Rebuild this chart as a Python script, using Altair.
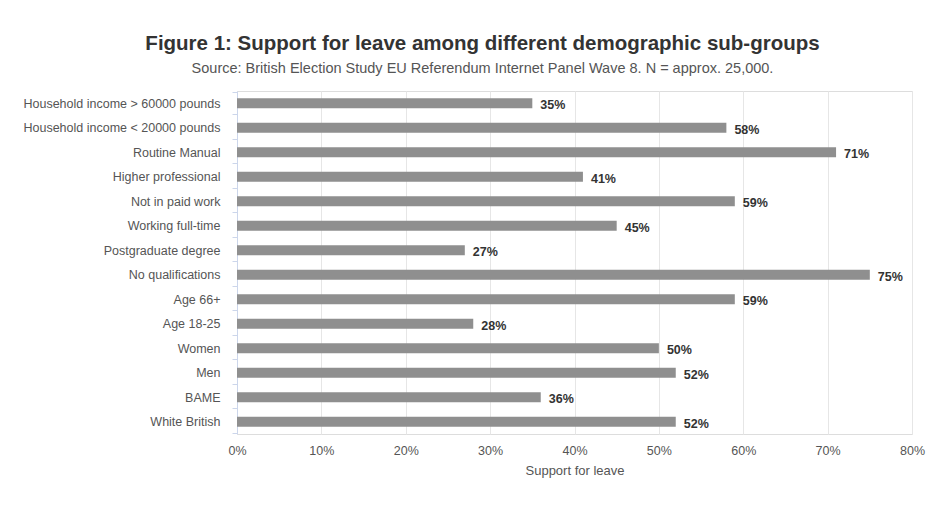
import altair as alt
import pandas as pd

categories = [
    "Household income > 60000 pounds",
    "Household income < 20000 pounds",
    "Routine Manual",
    "Higher professional",
    "Not in paid work",
    "Working full-time",
    "Postgraduate degree",
    "No qualifications",
    "Age 66+",
    "Age 18-25",
    "Women",
    "Men",
    "BAME",
    "White British",
]
values = [35, 58, 71, 41, 59, 45, 27, 75, 59, 28, 50, 52, 36, 52]
x_ticks = [0, 10, 20, 30, 40, 50, 60, 70, 80]

df = pd.DataFrame({"group": categories, "leave": values})

FONT = "Liberation Sans"

base = alt.Chart(df).encode(
    y=alt.Y(
        "group:N",
        sort=categories,
        title=None,
        axis=alt.Axis(
            tickBand="extent",
            tickSize=5,
            tickColor="#ccd6eb",
            domainColor="#ccd6eb",
            labelColor="#555555",
            labelFontSize=12.5,
            labelFont=FONT,
            labelPadding=12,
            labelLimit=400,
            grid=False,
        ),
    ),
    x=alt.X(
        "leave:Q",
        scale=alt.Scale(domain=[0, 80], nice=False),
        title="Support for leave",
        axis=alt.Axis(
            values=x_ticks,
            labelExpr="datum.value + '%'",
            labelColor="#555555",
            labelFontSize=12.5,
            labelFont=FONT,
            labelPadding=10,
            labelFlush=False,
            ticks=False,
            domain=False,
            grid=True,
            gridColor="#e6e6e6",
            titleColor="#555555",
            titleFontSize=13,
            titleFontWeight="normal",
            titleFont=FONT,
            titlePadding=8,
        ),
    ),
)

bars = base.mark_bar(size=10, color="#8f8f8f")
labels = base.mark_text(
    align="left", baseline="middle", dx=8, dy=2,
    fontSize=12.5, fontWeight="bold", color="#333333", font=FONT,
).encode(text="label:N").transform_calculate(label="datum.leave + '%'")

chart = (
    alt.layer(bars, labels)
    .properties(
        width=675,
        height=343,
        autosize=alt.AutoSizeParams(type="none"),
        padding={"left": 229, "top": 83, "right": 20, "bottom": 60},
        title=alt.TitleParams(
            text="Figure 1: Support for leave among different demographic sub-groups",
            subtitle="Source: British Election Study EU Referendum Internet Panel Wave 8. N = approx. 25,000.",
            anchor="middle",
            dx=-92,
            fontSize=20.5,
            fontWeight="bold",
            font=FONT,
            color="#333333",
            subtitleFont=FONT,
            subtitleFontSize=14.5,
            subtitleColor="#555555",
            subtitlePadding=7,
            offset=10,
        ),
    )
    .configure_view(stroke=None)
    .configure(background="white")
)

chart.save("out.html", embed_options={"renderer": "svg", "actions": False})
